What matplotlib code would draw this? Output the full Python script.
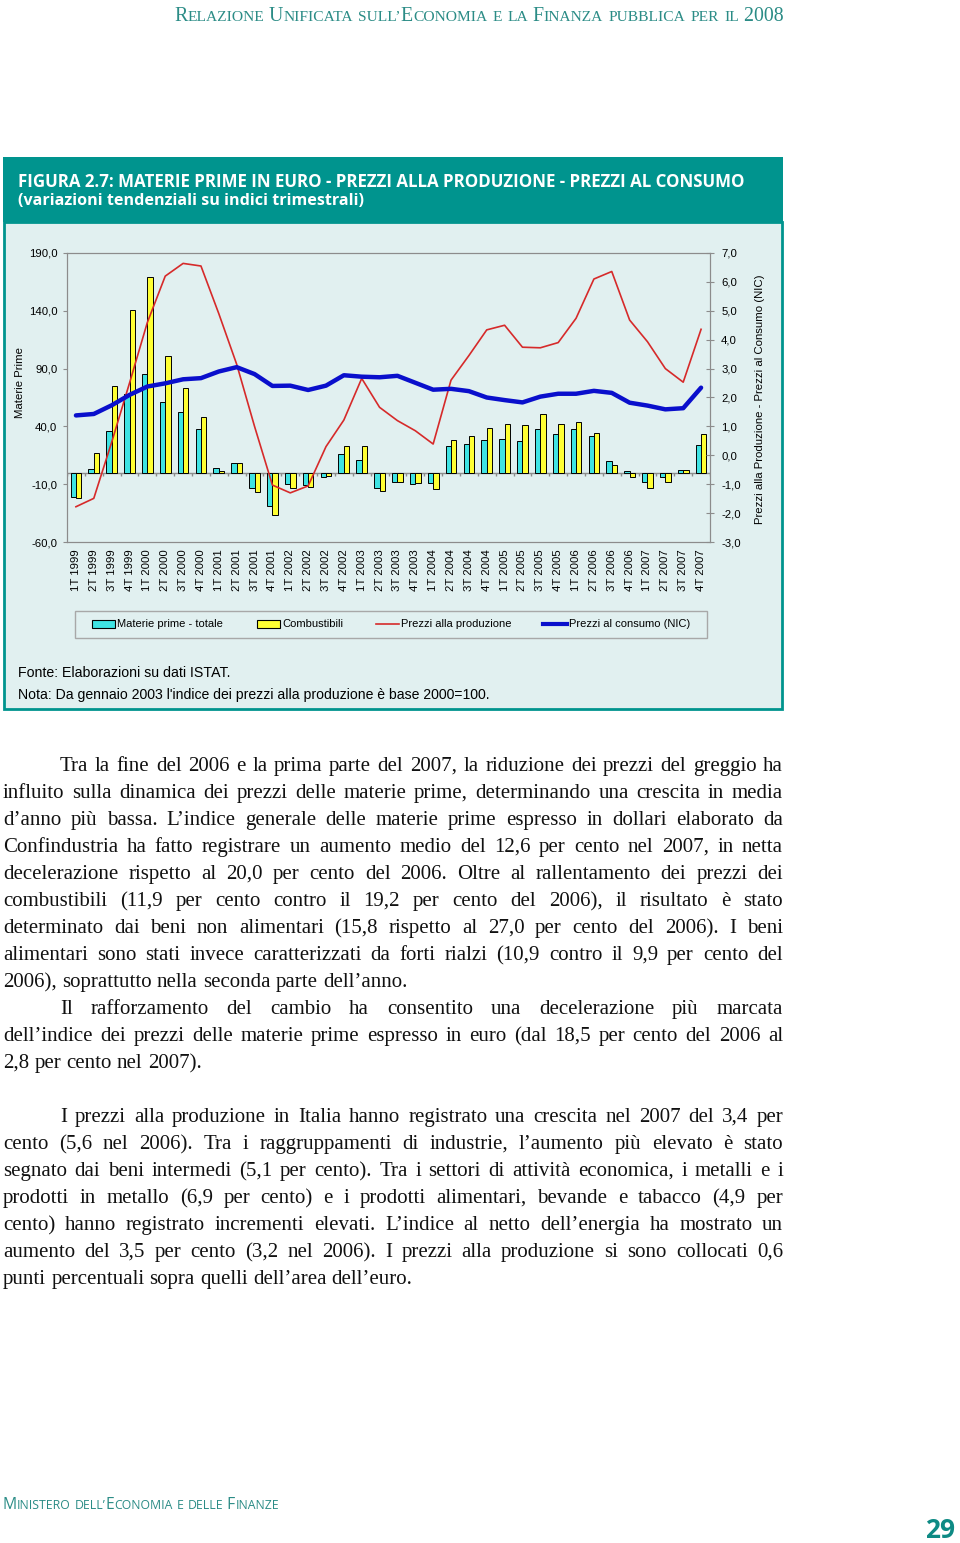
import numpy as np
import matplotlib.pyplot as plt
from matplotlib.patches import Rectangle
from matplotlib.lines import Line2D

# ---- data ----
quarters = [f"{q}T {y}" for y in range(1999, 2008) for q in range(1, 5)]

materie_prime = [-21, 3.5, 36, 68, 85, 61, 52.5, 38, 4, 8,
                 -13, -29, -9.5, -11, -3.5, 16, 11, -13, -8, -9.5,
                 -9, 23, 25, 28.5, 29.5, 27.5, 37.5, 33.5, 37.5, 31.5,
                 10.5, 1.5, -8, -4, 2.5, 23.5]
combustibili = [-22, 17, 75, 141, 169, 101, 73, 48, 1.5, 8.5,
                -16.5, -37, -13, -12, -3, 23, 23, -16, -8, -9,
                -14, 28, 32, 39, 42, 41, 51, 42.5, 44, 34.5,
                7, -4, -13.5, -8, 2, 33]
prezzi_produzione = [-1.78, -1.49, 0.45, 2.5, 4.6, 6.2, 6.64, 6.55, 4.9, 3.15,
                     1.0, -1.03, -1.3, -1.06, 0.3, 1.22, 2.66, 1.66, 1.2, 0.85,
                     0.39, 2.6, 3.45, 4.34, 4.5, 3.74, 3.72, 3.9, 4.74, 6.1,
                     6.36, 4.68, 3.93, 3.0, 2.53, 4.36]
prezzi_consumo = [1.38, 1.43, 1.73, 2.09, 2.38, 2.49, 2.63, 2.67, 2.9, 3.05,
                  2.81, 2.4, 2.41, 2.26, 2.41, 2.77, 2.72, 2.7, 2.75, 2.51,
                  2.27, 2.3, 2.22, 2.0, 1.91, 1.83, 2.03, 2.13, 2.13, 2.23,
                  2.16, 1.82, 1.72, 1.59, 1.63, 2.34]

left_ticks = [-60, -10, 40, 90, 140, 190]
right_ticks = [-3, -2, -1, 0, 1, 2, 3, 4, 5, 6, 7]

legend_labels = ["Materie prime - totale", "Combustibili",
                 "Prezzi alla produzione", "Prezzi al consumo (NIC)"]

body_lines = [
    ("Tra la fine del 2006 e la prima parte del 2007, la riduzione dei prezzi del greggio ha", 60, True),
    ("influito sulla dinamica dei prezzi delle materie prime, determinando una crescita in media", 3, True),
    ("d’anno più bassa. L’indice generale delle materie prime espresso in dollari elaborato da", 3, True),
    ("Confindustria ha fatto registrare un aumento medio del 12,6 per cento nel 2007, in netta", 3, True),
    ("decelerazione rispetto al 20,0 per cento del 2006. Oltre al rallentamento dei prezzi dei", 3, True),
    ("combustibili (11,9 per cento contro il 19,2 per cento del 2006), il risultato è stato", 3, True),
    ("determinato dai beni non alimentari (15,8 rispetto al 27,0 per cento del 2006). I beni", 3, True),
    ("alimentari sono stati invece caratterizzati da forti rialzi (10,9 contro il 9,9 per cento del", 3, True),
    ("2006), soprattutto nella seconda parte dell’anno.", 3, False),
    ("Il rafforzamento del cambio ha consentito una decelerazione più marcata", 60, True),
    ("dell’indice dei prezzi delle materie prime espresso in euro (dal 18,5 per cento del 2006 al", 3, True),
    ("2,8 per cento nel 2007).", 3, False),
    ("", 3, False),
    ("I prezzi alla produzione in Italia hanno registrato una crescita nel 2007 del 3,4 per", 60, True),
    ("cento (5,6 nel 2006). Tra i raggruppamenti di industrie, l’aumento più elevato è stato", 3, True),
    ("segnato dai beni intermedi (5,1 per cento). Tra i settori di attività economica, i metalli e i", 3, True),
    ("prodotti in metallo (6,9 per cento) e i prodotti alimentari, bevande e tabacco (4,9 per", 3, True),
    ("cento) hanno registrato incrementi elevati. L’indice al netto dell’energia ha mostrato un", 3, True),
    ("aumento del 3,5 per cento (3,2 nel 2006). I prezzi alla produzione si sono collocati 0,6", 3, True),
    ("punti percentuali sopra quelli dell’area dell’euro.", 3, False),
]

# ---- styles ----
W, H = 960, 1543
TEAL = '#00948e'
TEAL_TXT = '#2b8c86'
BG = '#e1f0f0'
GREY = '#8c8c8c'
CYAN = '#3fe3e3'
YELLOW = '#ffff33'
RED = '#d62a2a'
BLUE = '#0a0fcc'
SANS = 'Liberation Sans'
SERIF = 'Liberation Serif'
BODY_SIZE = 15


def fmt(v):
    return f"{v:.1f}".replace('.', ',')


fig = plt.figure(figsize=(W / 100, H / 100), dpi=100)
fig.patch.set_facecolor('white')
page = fig.add_axes([0, 0, 1, 1])
page.set_xlim(0, W)
page.set_ylim(H, 0)
page.axis('off')
renderer = fig.canvas.get_renderer()


def width_of(t):
    return t.get_window_extent(renderer).width


def fit_text(x, y, s, target_w, **kw):
    t = page.text(x, y, s, fontsize=10, **kw)
    t.set_fontsize(10 * target_w / width_of(t))
    return t


def run_width(s, size, family):
    a = page.text(0, 0, '|' + s + '|', fontsize=size, family=family)
    b = page.text(0, 0, '||', fontsize=size, family=family)
    w = width_of(a) - width_of(b)
    a.remove()
    b.remove()
    return w


def small_caps(text, x0, x1, y, big, family, color):
    # lower-case letters (and the apostrophe) are drawn as smaller capitals
    runs = []
    for ch in text:
        is_big = not (ch.islower() or ch == '’')
        if runs and runs[-1][1] == is_big:
            runs[-1][0] += ch
        else:
            runs.append([ch, is_big])
    small = big * 0.78
    widths = [run_width(r.upper(), big if b else small, family) for r, b in runs]
    k = (x1 - x0) / sum(widths)
    xx = x0
    for (r, b), w in zip(runs, widths):
        page.text(xx, y, r.upper(), fontsize=(big if b else small) * k,
                  family=family, color=color, va='baseline')
        xx += w * k


# ---- page header ----
small_caps("Relazione Unificata sull’Economia e la Finanza pubblica per il 2008",
           174, 783, 21, 13, SERIF, TEAL_TXT)

# ---- figure box ----
page.add_patch(Rectangle((3, 157), 780, 65, facecolor=TEAL, edgecolor='none'))
page.add_patch(Rectangle((4, 222), 778, 487, facecolor=BG, edgecolor=TEAL, lw=2))
fit_text(18, 187, "FIGURA 2.7: MATERIE PRIME IN EURO - PREZZI ALLA PRODUZIONE - PREZZI AL CONSUMO",
         727, color='white', weight='bold', family='Open Sans', va='baseline')
fit_text(18, 205, "(variazioni tendenziali su indici trimestrali)",
         346, color='white', weight='bold', family='Open Sans', va='baseline')

# ---- chart ----
ax = fig.add_axes([67 / W, 1 - 542 / H, (710 - 67) / W, (542 - 253) / H])
ax.set_facecolor('none')
x = np.arange(len(quarters))
ax.axhline(0, color=GREY, lw=1, zorder=1)
ax.vlines(np.arange(-0.5, len(quarters)), -2.6, 0, color=GREY, lw=1, zorder=1)
ax.bar(x - 0.15, materie_prime, 0.3, color=CYAN, edgecolor='black', linewidth=0.7, zorder=3)
ax.bar(x + 0.15, combustibili, 0.3, color=YELLOW, edgecolor='black', linewidth=0.7, zorder=3)
ax.set_xlim(-0.5, len(quarters) - 0.5)
ax.set_ylim(-60, 190)
ax.set_yticks(left_ticks)
ax.set_yticklabels([fmt(v) for v in left_ticks], family=SANS)
ax.set_xticks(x)
ax.set_xticklabels(quarters, rotation=90, family=SANS)
ax.tick_params(axis='x', length=0, pad=5, labelsize=8.2)
ax.tick_params(axis='y', length=3, pad=4, labelsize=8.2, color=GREY)
for s in ax.spines.values():
    s.set_color(GREY)

ax2 = ax.twinx()
ax2.plot(x, prezzi_produzione, color=RED, lw=1.2)
ax2.plot(x, prezzi_consumo, color=BLUE, lw=3.2, solid_joinstyle='round', solid_capstyle='round')
ax2.set_ylim(-3, 7)
ax2.set_yticks(right_ticks)
ax2.set_yticklabels([fmt(v) for v in right_ticks], family=SANS)
ax2.tick_params(axis='y', direction='inout', length=6, pad=5, labelsize=8.2, color=GREY)
for s in ax2.spines.values():
    s.set_color(GREY)

page.text(20, 383, "Materie Prime", rotation=90, ha='center', va='center',
          fontsize=8.2, family=SANS)
page.text(760, 399, "Prezzi alla Produzione - Prezzi al Consumo (NIC)", rotation=90,
          ha='center', va='center', fontsize=8.2, family=SANS)

# ---- legend ----
page.add_patch(Rectangle((75, 611), 632, 27, facecolor=BG, edgecolor='#a8a8a8', lw=1))
page.add_patch(Rectangle((92, 620), 23, 8, facecolor=CYAN, edgecolor='black', lw=0.8))
page.add_patch(Rectangle((257, 620), 23, 8, facecolor=YELLOW, edgecolor='black', lw=0.8))
page.add_line(Line2D([376, 399], [624, 624], color=RED, lw=1.2))
page.add_line(Line2D([543, 567], [624, 624], color=BLUE, lw=3))
for lx, lab in zip([117, 282, 401, 569], legend_labels):
    page.text(lx, 624, lab, fontsize=8, family=SANS, va='center')

# ---- notes ----
fit_text(18, 677, "Fonte: Elaborazioni su dati ISTAT.", 212, family=SANS, va='baseline')
fit_text(18, 699, "Nota: Da gennaio 2003 l'indice dei prezzi alla produzione è base 2000=100.",
         469, family=SANS, va='baseline')

# ---- body text (justified) ----
base = 771
space_w = run_width(' ', BODY_SIZE, SERIF)
for i, (line, x0, just) in enumerate(body_lines):
    if not line:
        continue
    y = base + 27 * i
    words = line.split(' ')
    texts = [page.text(0, y, w, fontsize=BODY_SIZE, family=SERIF, va='baseline', color='#111111')
             for w in words]
    widths = [width_of(t) for t in texts]
    if just and len(words) > 1:
        gap = (783 - x0 - sum(widths)) / (len(words) - 1)
    else:
        gap = space_w
    xx = x0
    for t, w in zip(texts, widths):
        t.set_x(xx)
        xx += w + gap

# ---- footer ----
small_caps("Ministero dell’Economia e delle Finanze", 3, 279, 1509, 12, 'Open Sans', TEAL_TXT)
page.text(955, 1538, "29", ha='right', va='baseline', fontsize=19, weight='bold',
          family='Open Sans', color='#0e8a84')

fig.savefig('out.png', dpi=100)
